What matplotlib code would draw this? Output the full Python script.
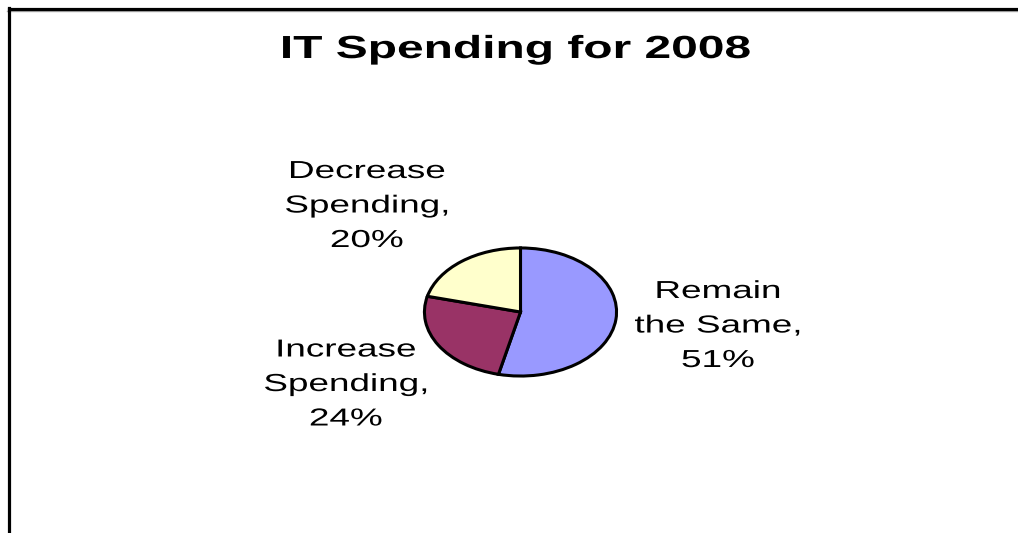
import matplotlib
matplotlib.use('Agg')
import matplotlib.pyplot as plt
from matplotlib.lines import Line2D
from matplotlib.patheffects import AbstractPathEffect
from matplotlib.transforms import Affine2D

# ── Data ──────────────────────────────────────────────────────────────────────
categories = ['Remain the Same', 'Increase Spending', 'Decrease Spending']
label_text = ['Remain\nthe Same,', 'Increase\nSpending,', 'Decrease\nSpending,']
values     = [51, 24, 20]
colors     = ['#9999FF', '#993366', '#FFFFCC']
title      = 'IT Spending for 2008'

# label block: centre x and first baseline, in pixels from top-left
label_pos  = [(718, 298), (346, 356.5), (367, 178)]
LINE_PITCH = 34.5
STRETCH    = 1.5          # horizontal widening of glyphs

W, H = 1018, 533
plt.rcParams['font.family'] = ['Liberation Sans', 'DejaVu Sans']


class Widen(AbstractPathEffect):
    """Draw text glyphs widened about the centre of each line."""

    def __init__(self, sx):
        super().__init__()
        self.sx = sx

    def draw_path(self, renderer, gc, tpath, affine, rgbFace=None):
        ext = tpath.get_extents()
        cx = (ext.x0 + ext.x1) / 2
        widen = Affine2D().translate(-cx, 0).scale(self.sx, 1).translate(cx, 0)
        renderer.draw_path(gc, tpath, widen + affine, rgbFace)


wide = [Widen(STRETCH)]

fig = plt.figure(figsize=(W / 100, H / 100), dpi=100)
fig.patch.set_facecolor('white')

# elliptical pie: axes box sized to the ellipse, aspect left free
cx, cy, rx, ry = 520.5, 312, 97.5, 65
ax = fig.add_axes([(cx - rx) / W, 1 - (cy + ry) / H, 2 * rx / W, 2 * ry / H])
ax.pie(values, colors=colors, startangle=90, counterclock=False, radius=1,
       wedgeprops=dict(edgecolor='black', linewidth=2.2))
ax.set_aspect('auto')
ax.set_xlim(-1.015, 1.015)
ax.set_ylim(-1.015, 1.015)
ax.axis('off')

for txt, v, (px, py) in zip(label_text, values, label_pos):
    lines = txt.split('\n') + [f'{v}%']
    for i, line in enumerate(lines):
        fig.text(px / W, 1 - (py + i * LINE_PITCH) / H, line,
                 ha='center', va='baseline', fontsize=17.7, color='black',
                 path_effects=wide)

fig.text(516 / W, 1 - 58 / H, title, ha='center', va='baseline',
         fontsize=23, fontweight='bold', color='black', path_effects=wide)

# chart area frame (top and left edges visible)
fig.add_artist(Line2D([7 / W, 1], [1 - 11 / H, 1 - 11 / H], color='#aaaaaa',
                      linewidth=1, transform=fig.transFigure))
fig.add_artist(Line2D([8.5 / W, 1], [1 - 9 / H, 1 - 9 / H], color='black',
                      linewidth=2.3, transform=fig.transFigure))
fig.add_artist(Line2D([8.5 / W, 8.5 / W], [1 - 8 / H, 0], color='black',
                      linewidth=2.3, transform=fig.transFigure))

fig.savefig('out.png', dpi=100, facecolor='white')
